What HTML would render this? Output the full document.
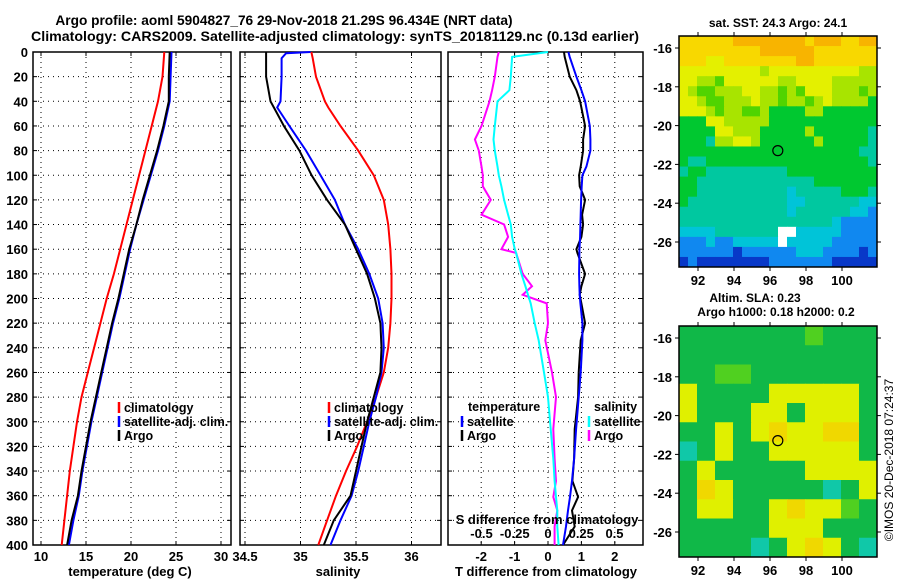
<!DOCTYPE html>
<html><head><meta charset="utf-8">
<style>
html,body{margin:0;padding:0;background:#fff;}
svg{display:block;font-family:"Liberation Sans",sans-serif;font-weight:bold;}
</style></head>
<body>
<svg id="c" width="900" height="580" viewBox="0 0 900 580"></svg>
<script>
// ---------- data ----------
const depthT = [0,20,40,60,80,100,120,140,160,180,200,220,240,260,280,300,320,340,360,380,400];
const tempClim = [23.7,23.5,23.0,22.3,21.6,20.9,20.2,19.5,18.8,18.1,17.3,16.6,15.9,15.2,14.5,14.0,13.6,13.2,12.9,12.6,12.3];
const tempSat  = [24.5,24.4,24.3,23.7,23.0,22.2,21.4,20.6,19.9,19.3,18.7,18.0,17.4,16.8,16.2,15.6,15.1,14.6,14.2,13.6,13.1];
const tempArgo = [24.3,24.2,24.2,23.6,22.9,22.1,21.3,20.6,19.8,19.2,18.6,17.9,17.3,16.7,16.1,15.5,15.0,14.5,14.1,13.4,12.9];

const depthS = [0,1,5,20,40,45,60,80,100,120,140,160,180,200,220,240,260,280,300,320,340,360,380,400];
const salClim = [35.10,35.10,35.11,35.14,35.22,35.25,35.36,35.52,35.66,35.75,35.79,35.81,35.82,35.82,35.81,35.79,35.75,35.68,35.60,35.51,35.41,35.32,35.24,35.16];
const salSat  = [35.09,34.87,34.83,34.83,34.82,34.79,34.90,35.05,35.18,35.31,35.40,35.52,35.62,35.70,35.74,35.75,35.73,35.68,35.62,35.57,35.52,35.46,35.36,35.27];
const salArgo = [34.69,34.69,34.69,34.69,34.73,34.76,34.85,34.99,35.10,35.24,35.40,35.50,35.60,35.67,35.72,35.73,35.72,35.66,35.60,35.55,35.50,35.45,35.30,35.21];

const depthD = [0,4,20,31,40,60,71,80,93,100,109,120,132,140,150,160,163,180,190,197,204,220,234,260,280,306,330,348,361,372,385,400];
const tDiffSat  = [0.61,0.65,0.85,1.0,1.11,1.25,1.27,1.27,1.15,1.03,1.01,0.99,0.98,0.97,0.96,0.94,0.94,0.93,0.94,0.95,0.97,1.03,1.03,0.98,0.92,0.84,0.78,0.72,0.66,0.60,0.54,0.45];
const tDiffArgo = [0.48,0.50,0.65,0.85,0.96,1.11,1.05,1.05,0.98,0.93,0.95,1.11,1.02,1.05,1.00,0.85,0.88,1.11,1.00,0.95,1.00,1.11,0.98,0.92,0.90,0.80,0.78,0.73,0.90,0.72,0.80,0.45];
const sDiffSat  = [0,-0.27,-0.28,-0.29,-0.38,-0.40,-0.41,-0.40,-0.38,-0.37,-0.35,-0.33,-0.30,-0.28,-0.27,-0.25,-0.24,-0.20,-0.17,-0.15,-0.13,-0.10,-0.07,-0.03,0.0,0.02,0.04,0.05,0.06,0.07,0.07,0.08];
const sDiffArgo = [-0.37,-0.38,-0.40,-0.42,-0.44,-0.50,-0.55,-0.52,-0.50,-0.49,-0.49,-0.43,-0.50,-0.33,-0.30,-0.35,-0.24,-0.19,-0.12,-0.19,-0.01,0.0,-0.02,0.03,0.06,0.04,0.05,0.06,0.04,0.07,0.05,0.05];

const depthTicks = [0,20,40,60,80,100,120,140,160,180,200,220,240,260,280,300,320,340,360,380,400];
const tempTicks = [10,15,20,25,30];
const salTicks = [34.5,35,35.5,36];
const tDiffTicks = [-2,-1,0,1,2];
const sDiffTicks = [-0.5,-0.25,0,0.25,0.5];
const sDiffTickLabels = ["-0.5","-0.25","0","0.25","0.5"];
const lonTicks = [92,94,96,98,100];
const latTicks = [-16,-18,-20,-22,-24,-26];
const argoLon = 96.434, argoLat = -21.29;

// map colour grids (lon 91..102, lat -15.3..-27.3)
const sstGrid = [
"YYYYYYOOOOOOOOYOOOYYOO",
"YYYYYYYYYOOOOOOYYYYYYY",
"YYYLLYYYYYYYYOOYYYYYYY",
"LLLLLLLLLMLLLLLLLLLLMM",
"LLMMGLLLLLLMMLLLLMMMMM",
"LMGGMMMLLMMGMGLLLMMMGM",
"LLMGGMMMLMMGMMGMLMMMMH",
"LLLMGMMGGMHHHHMMHHHHHH",
"HHHLLMMMMMHHHHHHHHHHHH",
"HHHHLLMMMHHHHHMHHHHHHT",
"HHHTMMLLMHHHHHHMHHHHHT",
"HHHHHHHHHHHHHHHHHHHHTT",
"HTTHHHHHHHHHHHHHHHHHHT",
"THHTTTTTTTTTHHHHHHHHHH",
"HHTTTTTTTTTTTTTHHHHHHH",
"HHTTTTTTTTTTCTTTTTHHHT",
"HTTTTTTTTTTTCCTTTTTTCC",
"TTTTTTTTTTTTCTTTTTTCCB",
"TTTTTTTTTTTTTTTTTCBBBB",
"CCCCTTTTTTTWWCCCCCBBBB",
"BBBCBBCCCCCWCCCCCBBBBB",
"BBBBBBDBBBBBBCCCBBBBDB",
"DBDDDDDDDDBBBBBBBDDDDD"];
const slaGrid = ["HHHHHHHGHHH","HHHHHHHHHHH","HHGGHHHHHHH","LHHHHLLLLLH","LHHHLLHLLLH","HHLHLYLLYYH","THLHHLLLLLH","HLHHHHHLLLL","HYLHHHHHTHL","HLLHHLYLLGH","HHHHHLLLHHH","HHHHTHLYLHT"];
const sstColors = {O:"#f8b400",Y:"#f8d800",L:"#e4f000",M:"#a8e400",G:"#50d400",H:"#00c830",T:"#00c8a0",C:"#00c4d8",B:"#1088f0",D:"#0838c8",W:"#ffffff"};
const slaColors = {H:"#10b848",G:"#50d020",L:"#e0f000",Y:"#f0d800",T:"#10c8a8"};

// ---------- helpers ----------
const svg = document.getElementById('c');
const NS = "http://www.w3.org/2000/svg";
function mk(tag, attrs, parent){const e=document.createElementNS(NS,tag);for(const k in attrs)e.setAttribute(k,attrs[k]);(parent||svg).appendChild(e);return e;}
function txt(x,y,s,size,anchor,parent){const t=mk('text',{x:x,y:y,'font-size':size,'text-anchor':anchor||'middle',fill:'#000'},parent);t.textContent=s;return t;}

const PT=52, PB=545;
function yD(d){return PT+(d/400)*(PB-PT);}

function panel(name,x0,x1,xs,ticks,tickLabels,showY){
  const g=mk('g',{});
  
  
  depthTicks.forEach(d=>{
    if(d>0&&d<400){const l=mk('line',{x1:x0,x2:x1,y1:yD(d),y2:yD(d),stroke:'#000','stroke-width':1,'stroke-dasharray':'1,4'},g);
    
    }
    mk('line',{x1:x0,x2:x0+4,y1:yD(d),y2:yD(d),stroke:'#000'},g);
    mk('line',{x1:x1-4,x2:x1,y1:yD(d),y2:yD(d),stroke:'#000'},g);
    if(showY){const t=txt(x0-5,yD(d)+5,String(d),13,'end',g);
      
      }
  });
  ticks.forEach((v,i)=>{
    const x=xs(v);
    const l=mk('line',{x1:x,x2:x,y1:PT,y2:PB,stroke:'#000','stroke-width':1,'stroke-dasharray':'1,4'},g);
    
    
    mk('line',{x1:x,x2:x,y1:PB-4,y2:PB,stroke:'#000'},g);
    mk('line',{x1:x,x2:x,y1:PT,y2:PT+4,stroke:'#000'},g);
    if(tickLabels){const t=txt(x,PB+16,tickLabels[i],13,'middle',g);
      
      }
  });
  const r=mk('rect',{x:x0,y:PT,width:x1-x0,height:PB-PT,fill:'none',stroke:'#000','stroke-width':1.5},g);
  
  
  return g;
}
function line(g,xs,vals,depths,color,name){
  const d=vals.map((v,i)=>(i?'L':'M')+xs(v).toFixed(1)+','+yD(depths[i]).toFixed(1)).join(' ');
  const p=mk('path',{d:d,fill:'none',stroke:color,'stroke-width':2},g);
  
  
}
function legend(g,x,y,color,label,name){
  mk('line',{x1:x,x2:x,y1:y-10,y2:y+1,stroke:color,'stroke-width':2.5},g);
  const t=txt(x+5,y,label,12.5,'start',g);
  
  
}

// ---------- titles ----------
let t=txt(284,25,"Argo profile: aoml 5904827_76 29-Nov-2018 21.29S 96.434E (NRT data)",13.7);


t=txt(335,41,"Climatology: CARS2009. Satellite-adjusted climatology: synTS_20181129.nc (0.13d earlier)",14.2);



// ---------- panel 1: temperature ----------
const xT=v=>41+(v-10)*9;
const g1=panel('temperature-panel',33,231,xT,tempTicks,tempTicks.map(String),true);
line(g1,xT,tempClim,depthT,'#ff0000','temp-climatology-line');
line(g1,xT,tempSat,depthT,'#0000ff','temp-satellite-line');
line(g1,xT,tempArgo,depthT,'#000000','temp-argo-line');
legend(g1,119,412,'#ff0000','climatology','legend-climatology');
legend(g1,119,426,'#0000ff','satellite-adj. clim.','legend-satellite');
legend(g1,119,440,'#000000','Argo','legend-argo');
t=txt(130,576,"temperature (deg C)",13);



// ---------- panel 2: salinity ----------
const xS=v=>245+(v-34.5)*111;
const g2=panel('salinity-panel',240,441,xS,salTicks,["34.5","35","35.5","36"],false);
line(g2,xS,salClim,depthS,'#ff0000','sal-climatology-line');
line(g2,xS,salSat,depthS,'#0000ff','sal-satellite-line');
line(g2,xS,salArgo,depthS,'#000000','sal-argo-line');
legend(g2,329,412,'#ff0000','climatology','legend-climatology');
legend(g2,329,426,'#0000ff','satellite-adj. clim.','legend-satellite');
legend(g2,329,440,'#000000','Argo','legend-argo');
t=txt(338,576,"salinity",13);



// ---------- panel 3: differences ----------
const xTD=v=>548+v*33.4;
const xSD=v=>548+v*133;
const g3=panel('difference-panel',448,643,xTD,tDiffTicks,tDiffTicks.map(String),false);
line(g3,xSD,sDiffArgo,depthD,'#ff00ff','sdiff-argo-line');
line(g3,xSD,sDiffSat,depthD,'#00ffff','sdiff-satellite-line');
line(g3,xTD,tDiffArgo,depthD,'#000000','tdiff-argo-line');
line(g3,xTD,tDiffSat,depthD,'#0000ff','tdiff-satellite-line');
sDiffTicks.forEach((v,i)=>{const s=txt(xSD(v),538,sDiffTickLabels[i],13,'middle',g3);
  
  });
t=txt(547,524,"S difference from climatology",13,'middle',g3);


t=txt(468,411,"temperature",12.5,'start',g3);


legend(g3,462,426,'#0000ff','satellite','legend-t-satellite');
legend(g3,462,440,'#000000','Argo','legend-t-argo');
t=txt(594,411,"salinity",12.5,'start',g3);


legend(g3,589,426,'#00ffff','satellite','legend-s-satellite');
legend(g3,589,440,'#ff00ff','Argo','legend-s-argo');
t=txt(546,576,"T difference from climatology",13);



// ---------- maps ----------
function map(name,top,grid,colors){
  const L=679,R=877,B=top+231;
  const xL=v=>698+(v-92)*18;
  const yL=v=>top+12+(-16-v)*19.4;
  const g=mk('g',{});
  
  
  const nc=grid[0].length, nr=grid.length;
  const cw=(R-L)/nc, ch=(B-top)/nr;
  grid.forEach((row,r)=>{[...row].forEach((c,k)=>{
    mk('rect',{x:L+k*cw,y:top+r*ch,width:cw+0.5,height:ch+0.5,fill:colors[c]},g);
  });});
  mk('rect',{x:L,y:top,width:R-L,height:B-top,fill:'none',stroke:'#000','stroke-width':1.5},g);
  lonTicks.forEach(v=>{
    mk('line',{x1:xL(v),x2:xL(v),y1:top-4,y2:top,stroke:'#000'},g);
    mk('line',{x1:xL(v),x2:xL(v),y1:B,y2:B+4,stroke:'#000'},g);
    const s=txt(xL(v),B+18,String(v),13,'middle',g);
    
    
  });
  latTicks.forEach(v=>{
    mk('line',{x1:L-4,x2:L,y1:yL(v),y2:yL(v),stroke:'#000'},g);
    mk('line',{x1:R,x2:R+4,y1:yL(v),y2:yL(v),stroke:'#000'},g);
    const s=txt(L-7,yL(v)+5,String(v),13,'end',g);
    
    
  });
  const c=mk('circle',{cx:xL(argoLon),cy:yL(argoLat),r:5,fill:'none',stroke:'#000','stroke-width':1.2},g);
  
  
}
map('sst-map',36,sstGrid,sstColors);
map('sla-map',326,slaGrid,slaColors);
t=txt(778,27,"sat. SST: 24.3 Argo: 24.1",12);


t=txt(755,302,"Altim. SLA: 0.23",12);


t=txt(776,316,"Argo h1000: 0.18 h2000: 0.2",12);


t=txt(0,0,"©IMOS 20-Dec-2018 07:24:37",12);
t.setAttribute('transform','translate(893,460) rotate(-90)');
t.setAttribute('font-weight','normal');


</script>
</body></html>
